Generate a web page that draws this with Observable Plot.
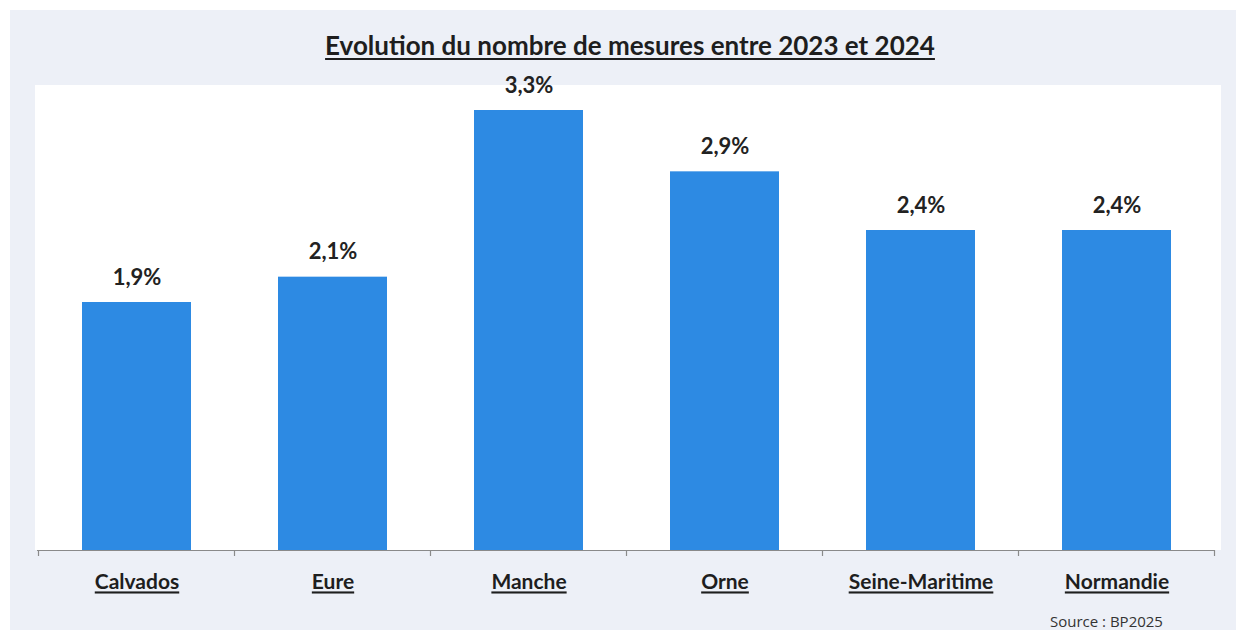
<!DOCTYPE html>
<html>
<head>
<meta charset="utf-8">
<script src="https://cdn.jsdelivr.net/npm/d3@7"></script>
<script src="https://cdn.jsdelivr.net/npm/@observablehq/plot@0.6"></script>
<style>
  html, body { margin: 0; padding: 0; background: #ffffff; }
  body { width: 1244px; height: 630px; position: relative; overflow: hidden; font-family: Lato, "Open Sans", sans-serif; }
  #panel { position: absolute; left: 10px; top: 10px; width: 1226px; height: 620px; background: #edf0f7; }
  #plotbg { position: absolute; left: 35px; top: 85px; width: 1186px; height: 465px; background: #ffffff; }
  #title { position: absolute; left: 0; width: 1260px; top: 29px; text-align: center; font-weight: 700; font-size: 26px; color: #1e1e1e; text-decoration: underline; text-underline-offset: 3px; }
  #chart { position: absolute; left: 0; top: 85px; }
  #source { position: absolute; left: 1050px; top: 611px; font-size: 15px; color: #333; font-family: "Open Sans", sans-serif; }
  .xlab text { text-decoration: underline; }
</style>
</head>
<body>
<div id="panel"></div>
<div id="plotbg"></div>
<div id="title">Evolution du nombre de mesures entre 2023 et 2024</div>
<div id="chart"></div>
<div id="source">Source : BP2025</div>
<script>
const categories = ["Calvados", "Eure", "Manche", "Orne", "Seine-Maritime", "Normandie"];
const values = [1.86, 2.05, 3.30, 2.84, 2.40, 2.40];
const labels = ["1,9%", "2,1%", "3,3%", "2,9%", "2,4%", "2,4%"];

const data = categories.map((c, i) => ({cat: c, v: values[i], label: labels[i]}));

const chart = Plot.plot({
  width: 1244,
  height: 545,
  marginLeft: 37,
  marginRight: 29,
  marginTop: 0,
  marginBottom: 80,
  style: {background: "transparent", fontFamily: "Lato, sans-serif", overflow: "visible"},
  x: {domain: categories, paddingInner: 0.444, paddingOuter: 0.222, label: null},
  y: {domain: [0, 3.4875], axis: null},
  marks: [
    Plot.barY(data, {x: "cat", y: "v", fill: "#2d8ae3"}),
    Plot.ruleY([0], {stroke: "#8a8a8a", strokeWidth: 1.2}),
    Plot.text(data, {x: "cat", y: "v", text: "label", dy: -25, fontSize: 22, fontWeight: "bold", fill: "#222"}),
    Plot.axisX({tickSize: 0, tickPadding: 24, fontSize: 21, fontWeight: "bold", fill: "#1e1e1e", className: "xlab", label: null})
  ]
});
document.getElementById("chart").appendChild(chart);

// category boundary ticks, placed from the library's x scale
const sx = chart.scale("x");
const half = sx.step / 2;
const y0 = 545 - 80;
const bounds = categories.map(c => sx.apply(c) + sx.bandwidth / 2 - half);
bounds.push(sx.apply(categories[categories.length - 1]) + sx.bandwidth / 2 + half);
d3.select(chart).append("g")
  .selectAll("line").data(bounds).join("line")
  .attr("x1", d => d).attr("x2", d => d)
  .attr("y1", y0).attr("y2", y0 + 6)
  .attr("stroke", "#8a8a8a").attr("stroke-width", 1.2);
</script>
</body>
</html>
